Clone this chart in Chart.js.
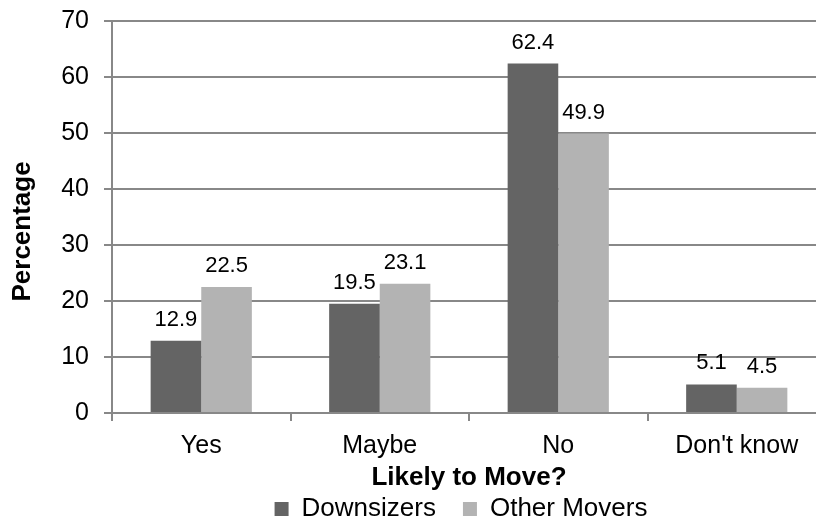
<!DOCTYPE html>
<html>
<head>
<meta charset="utf-8">
<script src="https://cdn.jsdelivr.net/npm/chart.js@4.4.1/dist/chart.umd.min.js"></script>
<style>
  html, body { margin: 0; padding: 0; background: #fff; overflow: hidden; }
  #wrap { width: 826px; height: 522px; }
</style>
</head>
<body>
<div id="wrap"><canvas id="chart"></canvas></div>
<script>
const categories = ["Yes", "Maybe", "No", "Don't know"];
const downsizers = [12.9, 19.5, 62.4, 5.1];
const otherMovers = [22.5, 23.1, 49.9, 4.5];
const seriesNames = ["Downsizers", "Other Movers"];
const yTicks = [0, 10, 20, 30, 40, 50, 60, 70];

const FONT = "'Liberation Sans', Arial, sans-serif";
const GRID = '#888888';

// values written above every bar
const barLabels = {
    id: 'barLabels',
    afterDatasetsDraw(chart) {
        const ctx = chart.ctx;
        ctx.save();
        ctx.font = '22px ' + FONT;
        ctx.fillStyle = '#000';
        ctx.textAlign = 'center';
        ctx.textBaseline = 'alphabetic';
        chart.data.datasets.forEach((ds, i) => {
            chart.getDatasetMeta(i).data.forEach((bar, j) => {
                ctx.fillText(ds.data[j].toFixed(1), bar.x, bar.y - 15);
            });
        });
        ctx.restore();
    }
};

// legend sits a bit right of the canvas centre
const legendShift = {
    id: 'legendShift',
    afterLayout(chart) {
        chart.legend.left += 96;
    }
};

const ctx = document.getElementById('chart').getContext('2d');
window.myChart = new Chart(ctx, {
    type: 'bar',
    data: {
        labels: categories,
        datasets: [{
            label: seriesNames[0],
            data: downsizers,
            backgroundColor: '#646464',
            borderWidth: 0
        }, {
            label: seriesNames[1],
            data: otherMovers,
            backgroundColor: '#b3b3b3',
            borderWidth: 0
        }]
    },
    options: {
        responsive: true,
        maintainAspectRatio: false,
        animation: false,
        layout: { padding: { top: 0, left: 0, right: 0, bottom: -10 } },
        datasets: {
            bar: { barPercentage: 1, categoryPercentage: 0.567 }
        },
        scales: {
            x: {
                afterFit(scale) { scale.height = 56; },
                grid: { drawOnChartArea: false, drawTicks: true, tickLength: 8, color: GRID, lineWidth: 2 },
                border: { display: true, color: GRID, width: 2 },
                ticks: { color: '#000', font: { family: FONT, size: 25 }, padding: 10 },
                title: {
                    display: true,
                    text: 'Likely to Move?',
                    color: '#000',
                    font: { family: FONT, size: 26, weight: 'bold' },
                    padding: { top: 0, bottom: -24 }
                }
            },
            y: {
                min: 0,
                max: 70,
                afterBuildTicks(scale) {
                    scale.ticks = yTicks.map(v => ({ value: v }));
                },
                afterFit(scale) { scale.width = 112; },
                grid: { color: GRID, lineWidth: 2, tickLength: 8 },
                border: { display: true, color: GRID, width: 2 },
                ticks: { color: '#000', font: { family: FONT, size: 25, lineHeight: 0.48 }, padding: 15 },
                title: {
                    display: true,
                    text: 'Percentage    ',
                    color: '#000',
                    font: { family: FONT, size: 26, weight: 'bold' },
                    padding: { top: 7, bottom: 0 }
                }
            }
        },
        plugins: {
            legend: {
                display: true,
                position: 'bottom',
                labels: {
                    color: '#000',
                    font: { family: FONT, size: 26 },
                    boxWidth: 14,
                    boxHeight: 14,
                    padding: 27
                }
            },
            tooltip: { enabled: false }
        }
    },
    plugins: [barLabels, legendShift]
});
</script>
</body>
</html>
